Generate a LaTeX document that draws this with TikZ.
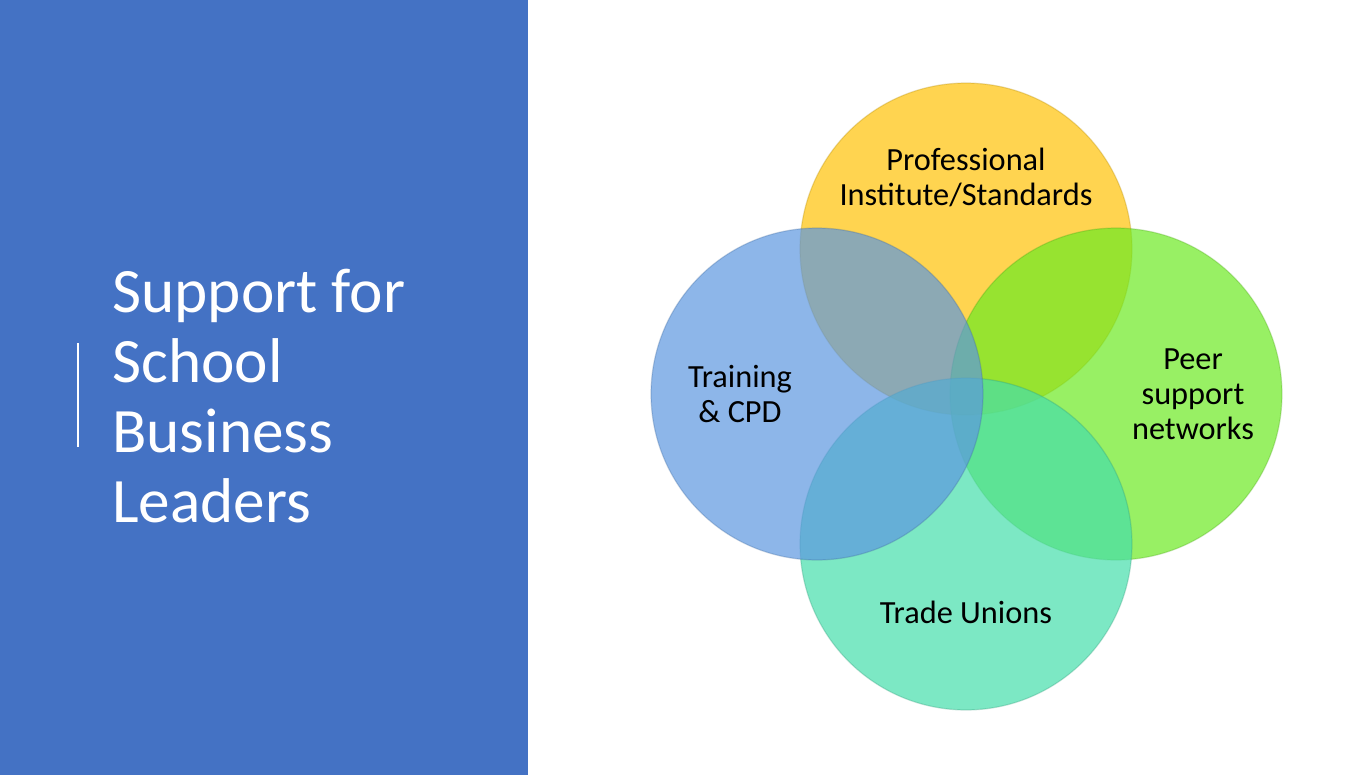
\documentclass[tikz,border=0pt]{standalone}
\usepackage{fontspec}
\setmainfont{Carlito}
\usetikzlibrary{positioning}

\definecolor{slideblue}{RGB}{68,114,196}
\definecolor{ringyellow}{RGB}{255,194,5}
\definecolor{ringgreen}{RGB}{108,234,34}
\definecolor{ringteal}{RGB}{69,222,171}
\definecolor{ringblue}{RGB}{92,151,224}

\tikzset{
  ring/.style={circle,minimum size=6.64cm,inner sep=0pt,fill=#1,fill opacity=0.7,
    draw=#1!70!black,draw opacity=0.3,line width=0.7pt},
  ringlabel/.style={font=\fontsize{18.4}{19.9}\selectfont,align=center,text=black,inner sep=0pt},
}

\begin{document}
\begin{tikzpicture}[x=0.02cm,y=-0.02cm]
  \useasboundingbox (0,0) rectangle (1367,775);
  % left panel
  \fill[slideblue] (0,0) rectangle (528,775);
  \node[anchor=base west,align=left,text=white,inner sep=0pt,
        font=\fontsize{36}{39.7}\selectfont] (title) at (112,522)
        {Support for\\School\\Business\\Leaders};
  \coordinate (bartop) at (78,343);
  \coordinate (barbot) at (78,447);
  \draw[white,line width=0.7pt] (bartop) -- (barbot);
  % circles
  \node[ring=ringyellow] (inst)  at (966,249)  {};
  \node[ring=ringgreen]  (peer)  at (1116,394) {};
  \node[ring=ringteal]   (union) at (966,544)  {};
  \node[ring=ringblue]   (cpd)   at (817,394)  {};
  % labels
  \node[ringlabel] (instlabel)  at (966,177)  {Professional\\Institute/Standards};
  \node[ringlabel] (peerlabel)  at (1193,394) {Peer\\support\\networks};
  \node[ringlabel] (unionlabel) at (966,612)  {Trade Unions};
  \node[ringlabel] (cpdlabel)   at (740,394)  {Training\\\& CPD};
\end{tikzpicture}
\end{document}
